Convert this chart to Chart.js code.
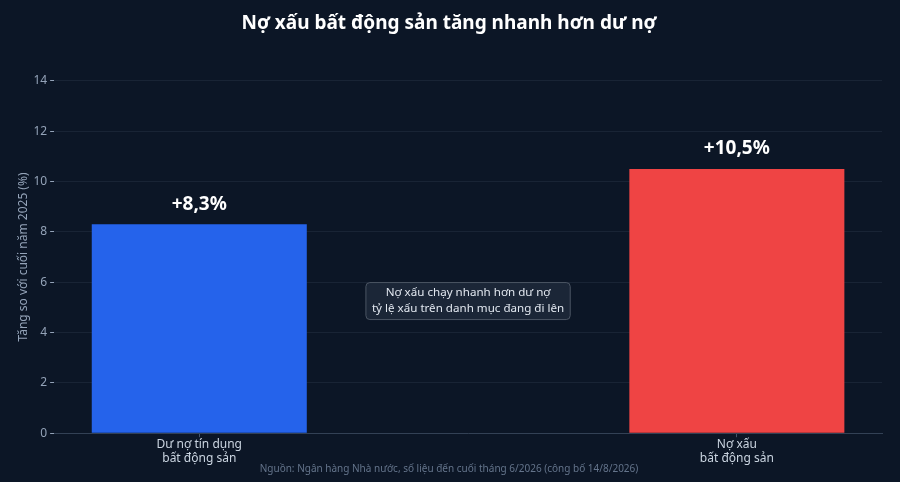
<!DOCTYPE html>
<html>
<head>
<meta charset="utf-8">
<script src="https://cdn.jsdelivr.net/npm/chart.js@4.4.1/dist/chart.umd.min.js"></script>
<style>
  html, body { margin: 0; padding: 0; background: #0c1626; }
  #wrap { width: 900px; height: 482px; }
</style>
</head>
<body>
<div id="wrap"><canvas id="chart" width="900" height="482"></canvas></div>
<script>
// Data
const categories = [['Dư nợ tín dụng', 'bất động sản'], ['Nợ xấu', 'bất động sản']];
const positions = [0, 1];
const growth = [8.3, 10.5];
const barColors = ['#2563eb', '#ef4444'];
const yTicks = [0, 2, 4, 6, 8, 10, 12, 14];
const note = ['Nợ xấu chạy nhanh hơn dư nợ', 'tỷ lệ xấu trên danh mục đang đi lên'];
const notePos = { x: 0.5, y: 5.25 };

const FONT = "'Noto Sans', 'Open Sans', sans-serif";

// value labels above bars
const valueLabels = {
  id: 'valueLabels',
  afterDatasetsDraw(c) {
    const ctx = c.ctx;
    const meta = c.getDatasetMeta(0);
    ctx.save();
    ctx.font = `bold 19px ${FONT}`;
    ctx.fillStyle = '#ffffff';
    ctx.textAlign = 'center';
    ctx.textBaseline = 'middle';
    meta.data.forEach((bar, i) => {
      const txt = '+' + growth[i].toFixed(1).replace('.', ',') + '%';
      ctx.fillText(txt, bar.x, bar.y - 20);
    });
    ctx.restore();
  }
};

// annotation box in the middle
const noteBox = {
  id: 'noteBox',
  afterDatasetsDraw(c) {
    const ctx = c.ctx;
    const cx = c.scales.x.getPixelForValue(notePos.x);
    const cy = c.scales.y.getPixelForValue(notePos.y);
    ctx.save();
    ctx.font = `11.6px ${FONT}`;
    const w = Math.max(...note.map(t => ctx.measureText(t).width)) + 12;
    const lh = 16;
    const h = note.length * lh + 5;
    const x0 = cx - w / 2, y0 = cy - h / 2;
    ctx.beginPath();
    ctx.roundRect(x0, y0, w, h, 4);
    ctx.fillStyle = 'rgba(30, 41, 59, 0.85)';
    ctx.fill();
    ctx.strokeStyle = '#4b5563';
    ctx.lineWidth = 1;
    ctx.stroke();
    ctx.fillStyle = '#e2e8f0';
    ctx.textAlign = 'center';
    ctx.textBaseline = 'middle';
    note.forEach((t, i) => {
      ctx.fillText(t, cx, y0 + 2.5 + lh / 2 + i * lh);
    });
    ctx.restore();
  }
};

const ctx = document.getElementById('chart');
const chart = new Chart(ctx, {
  type: 'bar',
  data: {
    datasets: [{
      data: positions.map((p, i) => ({ x: p, y: growth[i] })),
      backgroundColor: barColors,
      borderWidth: 0,
      categoryPercentage: 1,
      barPercentage: 0.4,
    }],
  },
  options: {
    responsive: false,
    animation: false,
    devicePixelRatio: 1,
    layout: {
      padding: { top: 0, bottom: 8, left: 16, right: 18 },
    },
    scales: {
      x: {
        type: 'linear',
        offset: false,
        min: -0.27,
        max: 1.27,
        afterBuildTicks: (axis) => { axis.ticks = positions.map(v => ({ value: v })); },
        grid: {
          display: true,
          offset: false,
          drawOnChartArea: false,
          drawTicks: true,
          tickLength: 4,
          tickColor: '#475569',
        },
        border: { display: true, color: '#334155', width: 1 },
        ticks: {
          color: '#cbd5e1',
          font: { family: FONT, size: 12 },
          padding: 0,
          maxRotation: 0,
          callback: (value) => {
            const i = positions.indexOf(value);
            return i >= 0 ? categories[i] : '';
          },
        },
      },
      y: {
        min: 0,
        max: 14,
        afterBuildTicks: (axis) => { axis.ticks = yTicks.map(v => ({ value: v })); },
        grid: {
          color: 'rgba(148, 163, 184, 0.1)',
          tickColor: '#94a3b8',
          tickLength: 4,
        },
        border: { display: false },
        ticks: {
          color: '#94a3b8',
          font: { family: FONT, size: 12 },
          padding: 3,
        },
        title: {
          display: true,
          text: 'Tăng so với cuối năm 2025 (%)',
          color: '#94a3b8',
          font: { family: FONT, size: 12 },
          padding: { top: 0, bottom: 0 },
        },
      },
    },
    plugins: {
      legend: { display: false },
      tooltip: { enabled: false },
      title: {
        display: true,
        text: 'Nợ xấu bất động sản tăng nhanh hơn dư nợ',
        color: '#ffffff',
        font: { family: FONT, size: 19, weight: 'bold' },
        padding: { top: 12, bottom: 46 },
      },
      subtitle: {
        display: true,
        position: 'bottom',
        text: 'Nguồn: Ngân hàng Nhà nước, số liệu đến cuối tháng 6/2026 (công bố 14/8/2026)',
        color: '#64748b',
        font: { family: FONT, size: 10, lineHeight: 0.6 },
        padding: { top: 0, bottom: 2 },
      },
    },
  },
  plugins: [valueLabels, noteBox],
});
</script>
</body>
</html>
